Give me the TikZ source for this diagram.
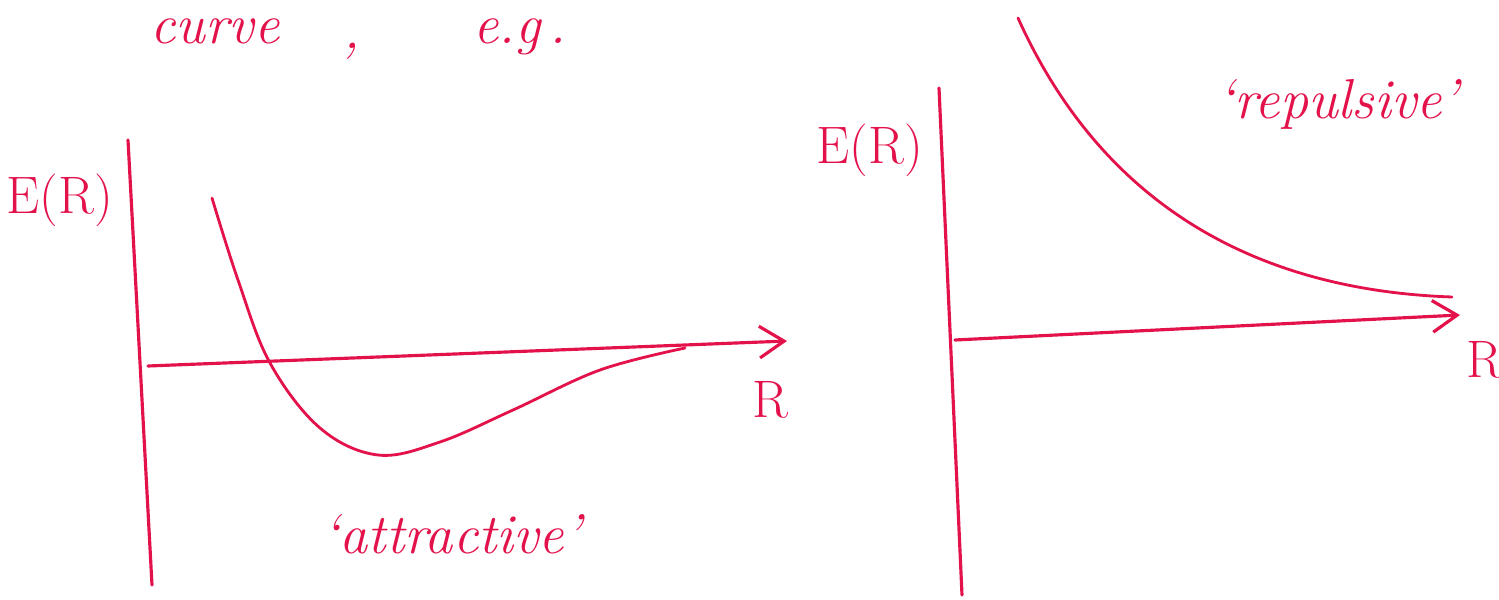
\documentclass[tikz,border=0pt]{standalone}
\usepackage{tikz}
\usepackage{xcolor}
\usetikzlibrary{arrows.meta}
\definecolor{Ink_Red}{HTML}{E3124B}

\begin{document}
\begin{tikzpicture}[
    x=0.01cm, y=-0.01cm,
    axis/.style={draw=Ink_Red, line width=0.9pt, line cap=round},
    curveline/.style={draw=Ink_Red, line width=0.8pt, line cap=round},
    lbl/.style={text=Ink_Red, font=\fontsize{15}{18}\selectfont, inner sep=0pt, anchor=center},
    word/.style={text=Ink_Red, font=\itshape\fontsize{16}{19}\selectfont, inner sep=0pt, anchor=base}
]
\useasboundingbox (0,0) rectangle (1499,600);
% heading, cut off at the top
\node[word] (curve) at (215,44) {curve};
\node[word] (comma) at (352,48) {,};
\node[word] (eg) at (520,44) {e.g\,.};
% attractive
\coordinate (ltop) at (128,140);
\coordinate (lbot) at (152,585);
\coordinate (lo) at (148,366);
\coordinate (lx) at (787,341);
\draw[axis] (ltop) -- (lbot);
\draw[axis, -{Straight Barb[length=7pt, width=9pt]}] (lo) -- (lx);
\node[lbl] (lE) at (60,200) {E(R)};
\node[lbl] (lR) at (770,400) {R};
\draw[curveline] plot[smooth, tension=0.6] coordinates {(212,198) (238,280) (270,363) (320,428) (378,455) (440,442) (513,410) (600,370) (685,348)};
\node[word] (att) at (452,553) {`attractive'};
% repulsive
\coordinate (rtop) at (939,88);
\coordinate (rbot) at (962,595);
\coordinate (ro) at (955,340);
\coordinate (rx) at (1460,315);
\draw[axis] (rtop) -- (rbot);
\draw[axis, -{Straight Barb[length=7pt, width=9pt]}] (ro) -- (rx);
\node[lbl] (rE) at (870,150) {E(R)};
\node[lbl] (rR) at (1484,360) {R};
\draw[curveline] (1018,18) .. controls (1100,200) and (1250,290) .. (1452,297);
\node[word] (rep) at (1338,118) {`repulsive'};
\end{tikzpicture}
\end{document}
